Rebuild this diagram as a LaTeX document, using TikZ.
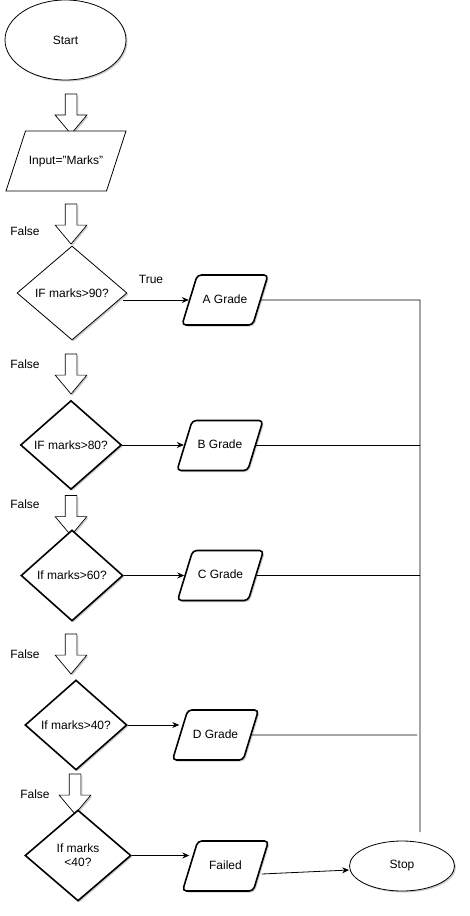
\documentclass[tikz,border=0pt]{standalone}
\usepackage{fontspec}
\setmainfont{Liberation Sans}
\usetikzlibrary{shapes.geometric,shapes.arrows,shadows,arrows.meta}

\begin{document}
\begin{tikzpicture}[x=1pt,y=-1pt,
  every node/.style={font=\fontsize{12}{14}\selectfont, inner sep=0pt},
  softshadow/.style={drop shadow={shadow xshift=1.5pt, shadow yshift=-1.5pt, fill=black, opacity=0.2}},
  terminal/.style={ellipse, draw, line width=0.8pt, fill=white, softshadow},
  inout/.style={trapezium, trapezium left angle=72, trapezium right angle=108, trapezium stretches body, draw, line width=0.8pt, fill=white, text height=9pt, text depth=3pt, inner ysep=24pt},
  grade/.style={inout, trapezium left angle=73, trapezium right angle=107, line width=1.6pt, rounded corners=4pt, inner ysep=19pt, minimum width=86, softshadow},
  decision/.style={diamond, draw, line width=1.6pt, fill=white, align=center, softshadow},
  downarrow/.style={single arrow, draw, line width=0.7pt, fill=white, rotate=-90, inner ysep=5.5pt, minimum height=40, minimum width=31, single arrow head extend=10, single arrow tip angle=80, softshadow},
  flow/.style={-{Stealth[length=7pt,width=6pt]}, line width=0.8pt},
  link/.style={line width=0.8pt}]
\useasboundingbox (0,0) rectangle (470,916);

\node [terminal, minimum width=121, minimum height=80] (start) at (65.5,40) {Start};
\node [downarrow] (a1) at (71,110.5) {};
\node [inout, minimum width=120] (input) at (66,161) {Input=\char"22 Marks\char"22};
\node [downarrow] (a2) at (71,220.5) {};
\node [decision, line width=0.8pt, minimum width=110, minimum height=94] (q90) at (72,293) {IF marks>90?};
\node [grade] (ga) at (225,300) {A Grade};
\node [downarrow] (a3) at (71,370.5) {};
\node [decision, minimum width=101, minimum height=89] (q80) at (71,445) {IF marks>80?};
\node [grade] (gb) at (220,445.5) {B Grade};
\node [downarrow] (a4) at (71,512) {};
\node [decision, minimum width=102, minimum height=91] (q60) at (72,575.5) {If marks>60?};
\node [grade] (gc) at (220.5,575.5) {C Grade};
\node [downarrow] (a5) at (71,650.5) {};
\node [decision, minimum width=102, minimum height=90] (q40) at (76,725) {If marks>40?};
\node [grade] (gd) at (215.5,735) {D Grade};
\node [downarrow] (a6) at (75,790.5) {};
\node [decision, minimum width=106, minimum height=91] (qfail) at (78,855.5) {If marks\\<40?};
\node [grade] (gf) at (225.5,866) {Failed};
\node [terminal, minimum width=105, minimum height=50] (stop) at (402,866) {Stop};

\node (f1) at (25,231) {False};
\node (f2) at (25,364) {False};
\node (f3) at (25,504) {False};
\node (f4) at (25,654) {False};
\node (f5) at (35,794) {False};
\node (t1) at (151,279) {True};

\coordinate (bustop) at (420,300);
\coordinate (busend) at (420,832);
\coordinate (dend) at (417,735);

\draw [flow] ([xshift=-4pt]q90.east |- ga.west) -- (ga.west);
\draw [flow] (q80.east) -- (q80.east -| gb.west);
\draw [flow] (q60.east) -- (q60.east -| gc.west);
\draw [flow] (q40.east) -- (q40.east -| gd.west);
\draw [flow] (qfail.east) -- (qfail.east -| gf.west);
\draw [flow] ([yshift=-8pt]gf.east) -- ([yshift=-4pt]stop.west);

\draw [link] (ga.east) -- (bustop) -- (busend);
\draw [link] (gb.east) -- (gb.east -| bustop);
\draw [link] (gc.east) -- (gc.east -| bustop);
\draw [link] (gd.east) -- (dend);
\end{tikzpicture}
\end{document}
